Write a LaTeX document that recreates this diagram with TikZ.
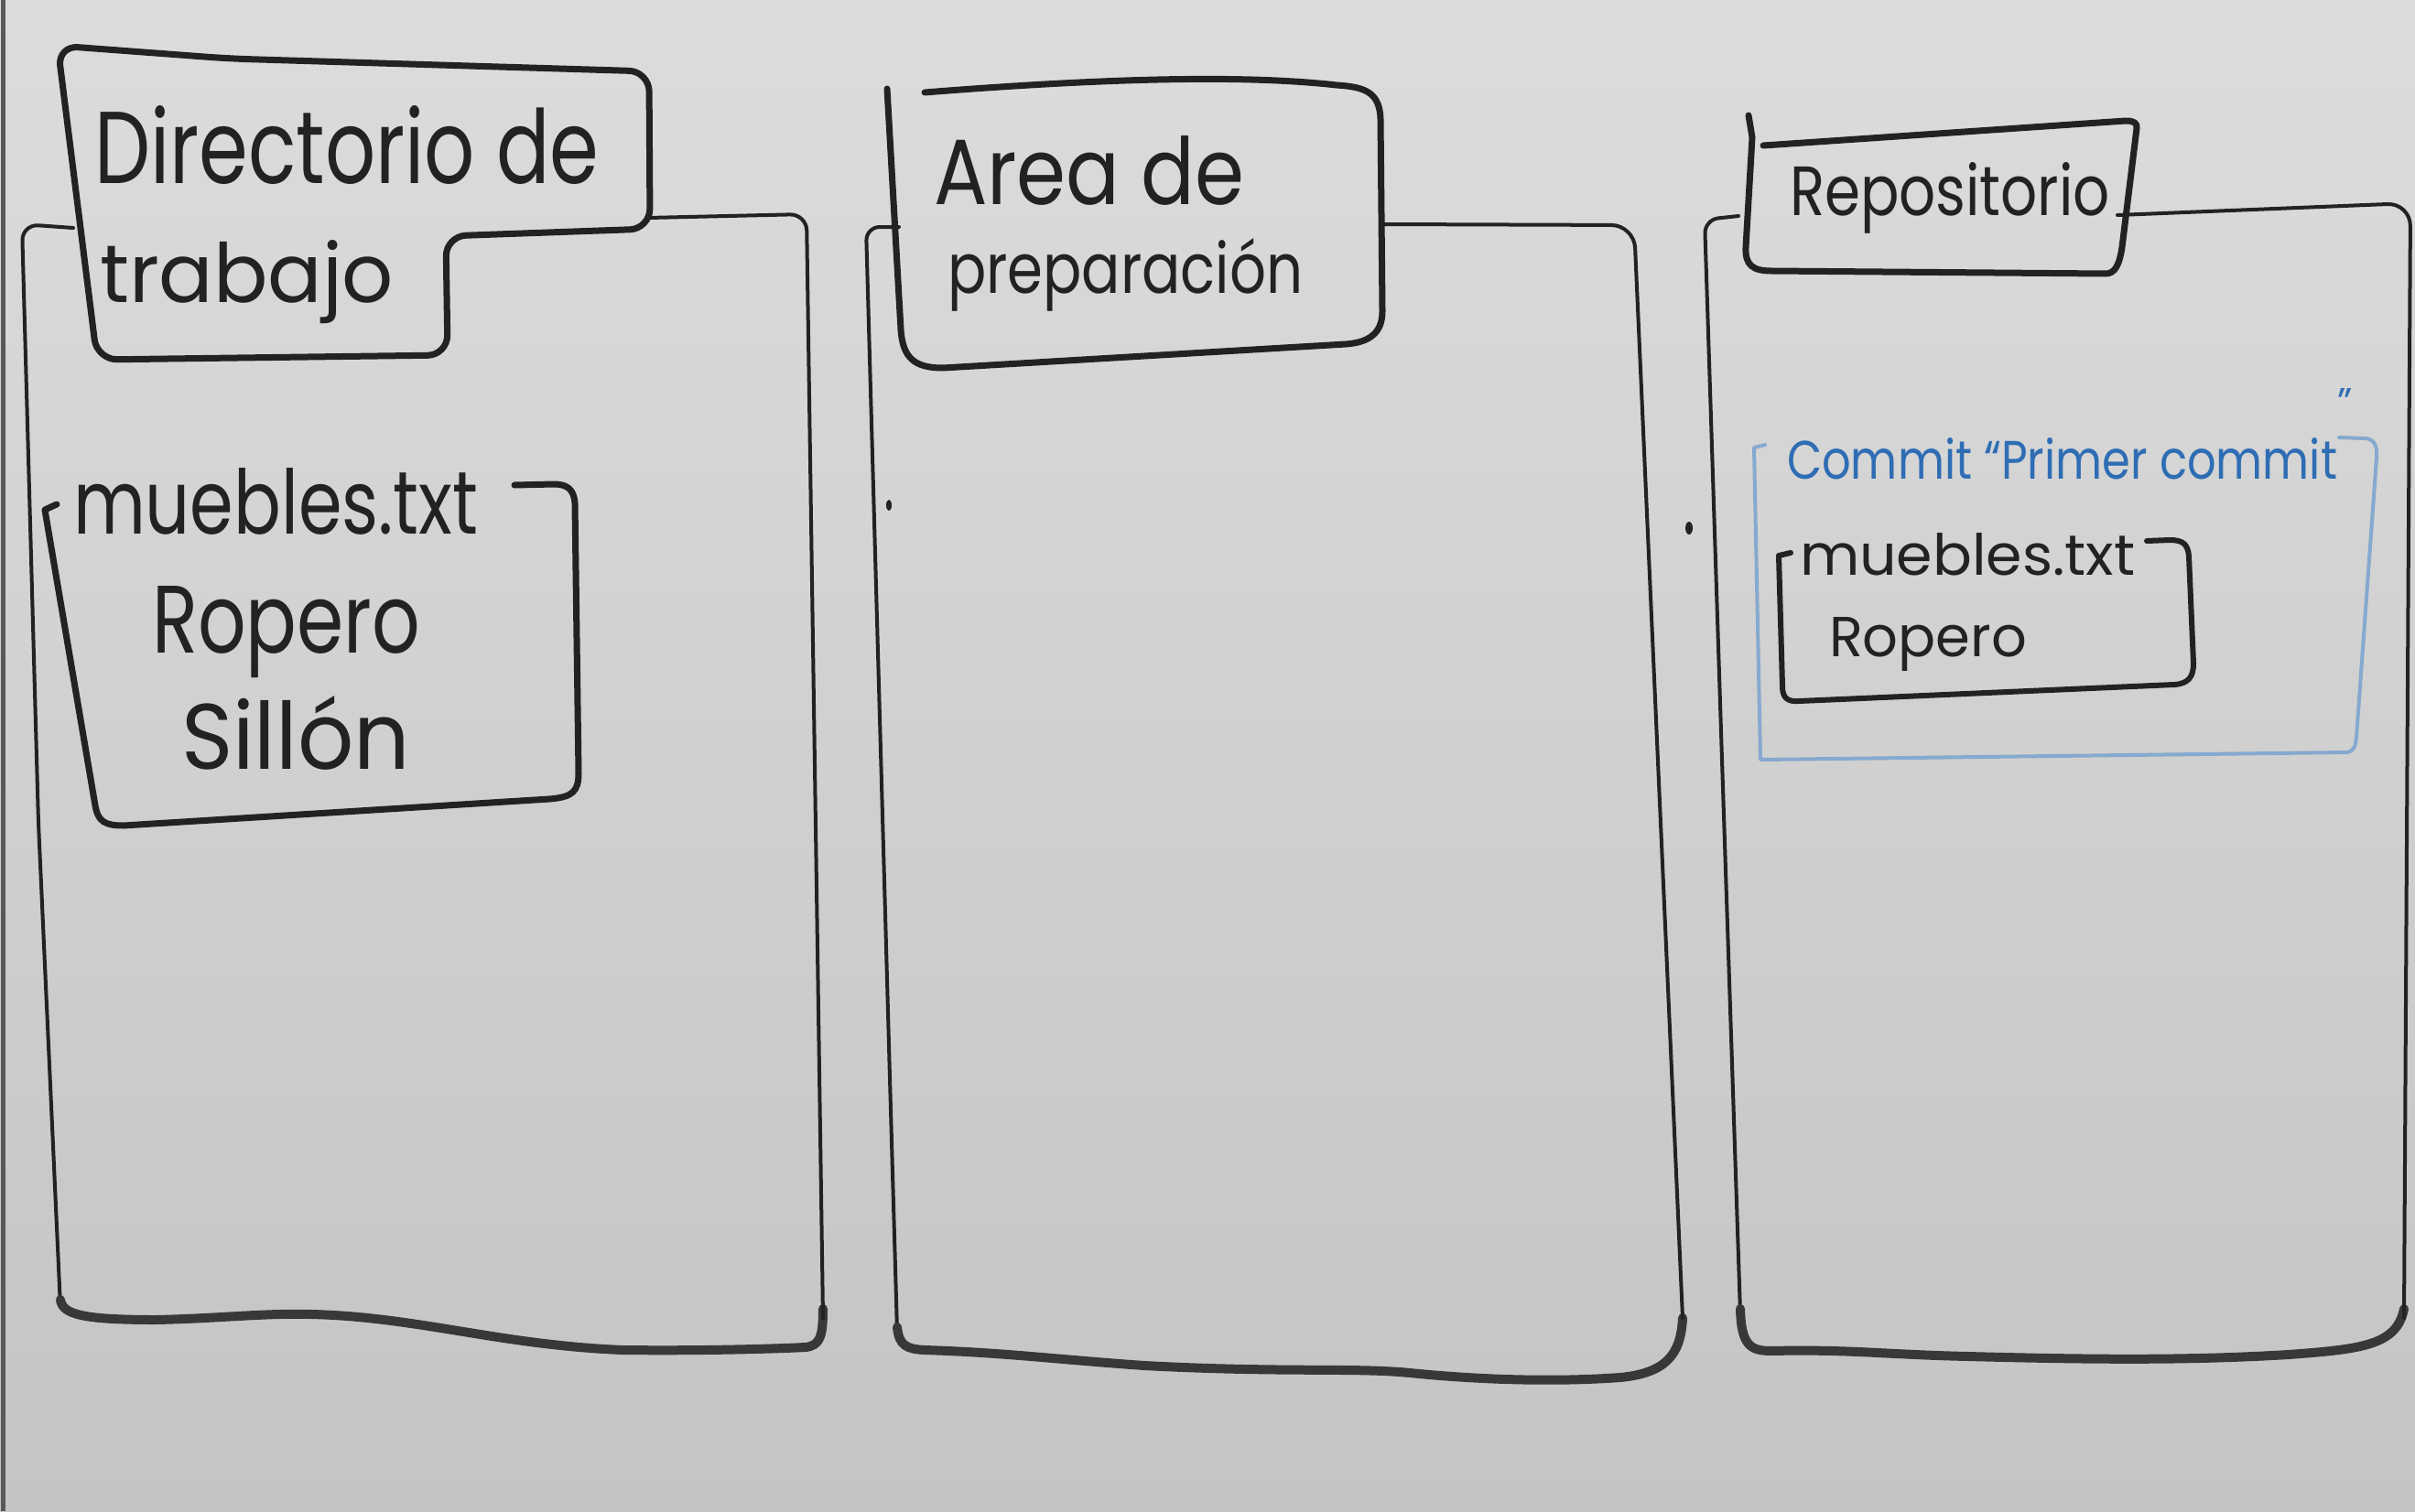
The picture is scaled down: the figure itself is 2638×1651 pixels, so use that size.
\documentclass[tikz,border=0pt]{standalone}
\usepackage{fontspec}
\setmainfont{Poppins}
\usepackage{graphicx}
\definecolor{ink}{HTML}{222222}
\definecolor{inkb}{HTML}{383838}
\definecolor{blueink}{HTML}{2E6DB4}
\definecolor{bluebox}{HTML}{86A9CF}
\definecolor{boardtop}{HTML}{DCDCDC}
\definecolor{boardbot}{HTML}{C4C4C4}
\newcommand\handtext[3]{\resizebox{#1pt}{#2pt}{#3}}
\tikzset{
  pen/.style={draw=ink, line width=7pt, line cap=round, line join=round},
  thinpen/.style={draw=ink, line width=4pt, line cap=round, line join=round},
  basepen/.style={draw=inkb, line width=10pt, line cap=round, line join=round},
  bluepen/.style={draw=bluebox, line width=4pt, line cap=round, line join=round},
  lbl/.style={anchor=base west, inner sep=0pt, outer sep=0pt, text=ink},
}
\begin{document}
\begin{tikzpicture}[x=1pt,y=-1pt]
\useasboundingbox (0,0) rectangle (2638,1651);
\fill[top color=boardtop, bottom color=boardbot] (0,0) rectangle (2638,1651);
\draw[draw=black!65, line width=5pt] (3,0) -- (3,1651);

% ---------- Panel 1: Directorio de trabajo ----------
\draw[pen, rounded corners=22pt] (63,50) -- (250,64) -- (709,78) -- (710,250) -- (487,258) -- (489,388) -- (106,393) -- cycle;
\draw[thinpen, rounded corners=18pt] (80,249) -- (24,245) -- (42,900) -- (66,1428);
\draw[basepen] (66,1420) .. controls (68,1436) and (90,1442) .. (170,1442) .. controls (260,1440) and (300,1432) .. (380,1438) .. controls (480,1446) and (560,1470) .. (680,1475) .. controls (760,1476) and (840,1474) .. (880,1472) .. controls (896,1470) and (899,1460) .. (899,1430);
\draw[thinpen, rounded corners=18pt] (899,1440) -- (881,234) -- (708,238);
% file box
\draw[pen] (62,551) -- (49,557) -- (104,880) .. controls (107,898) and (115,902) .. (135,902) -- (600,873) .. controls (625,871) and (632,865) .. (632,845) -- (628,550) .. controls (627,535) and (620,529) .. (605,529) -- (562,530);

\node[lbl] (dirA) at (103,200) {\handtext{551}{85}{Directorio de}};
\node[lbl] (dirB) at (109,330) {\handtext{321}{68}{trabajo}};
\node[lbl] (f1name) at (80,583) {\handtext{442}{72}{muebles.txt}};
\node[lbl] (f1l1) at (166,713) {\handtext{293}{73}{Ropero}};
\node[lbl] (f1l2) at (198,840) {\handtext{250}{80}{Sillón}};

% ---------- Panel 2: Area de preparación ----------
\draw[pen] (969,97) -- (984,360) .. controls (986,392) and (1000,402) .. (1030,402) -- (1470,376) .. controls (1500,374) and (1510,360) .. (1510,340) -- (1508,130) .. controls (1507,100) and (1490,95) .. (1460,93) .. controls (1380,84) and (1250,82) .. (1010,101);
\draw[thinpen, rounded corners=15pt] (982,248) -- (946,248) -- (972,1178) -- (980,1455);
\draw[basepen] (980,1450) .. controls (982,1470) and (990,1474) .. (1010,1475) .. controls (1100,1478) and (1150,1485) .. (1250,1492) .. controls (1400,1500) and (1480,1494) .. (1540,1500) .. controls (1620,1508) and (1700,1510) .. (1770,1505) .. controls (1820,1500) and (1836,1480) .. (1838,1440);
\draw[thinpen, rounded corners=25pt] (1838,1440) -- (1785,246) -- (1512,245);
\fill[ink] (971,552) ellipse (3pt and 6pt);

\node[lbl] (areaA) at (1020,223) {\handtext{339}{75}{Area de}};
\node[lbl] (areaB) at (1035,320) {\handtext{388}{60}{preparación}};

% ---------- Panel 3: Repositorio ----------
\draw[pen] (1910,126) -- (1914,150) -- (1907,270) .. controls (1906,290) and (1915,296) .. (1935,296) -- (2300,299) .. controls (2310,299) and (2315,290) .. (2318,270) -- (2334,140) .. controls (2335,134) and (2330,132) .. (2322,132) -- (1926,159);
\draw[thinpen, rounded corners=15pt] (1899,236) -- (1862,240) -- (1880,800) -- (1901,1435);
\draw[basepen] (1901,1430) .. controls (1902,1470) and (1912,1476) .. (1935,1476) .. controls (2020,1474) and (2060,1480) .. (2150,1482) .. controls (2300,1486) and (2400,1486) .. (2500,1480) .. controls (2580,1474) and (2618,1470) .. (2626,1430);
\draw[thinpen, rounded corners=25pt] (2626,1440) -- (2633,222) -- (2313,235);
\fill[ink] (1845,577) ellipse (4pt and 7pt);
% commit box (blue)
\draw[bluepen] (1928,486) -- (1916,489) -- (1923,830) -- (2564,822) .. controls (2572,820) and (2573,815) .. (2574,805) -- (2596,500) .. controls (2597,488) and (2594,480) .. (2584,479) -- (2555,478);
% file box
\draw[pen, line width=6pt] (1956,604) -- (1943,607) -- (1947,750) .. controls (1947,762) and (1952,767) .. (1965,766) -- (2375,748) .. controls (2390,747) and (2396,740) .. (2396,725) -- (2391,608) .. controls (2390,595) and (2385,590) .. (2370,590) -- (2345,591);

\node[lbl] (repo) at (1955,235) {\handtext{350}{58}{Repositorio}};
\node[lbl, text=blueink] (commit) at (1952,523) {\handtext{601}{45}{Commit “Primer commit}\raisebox{69pt}{\resizebox{!}{30pt}{”}}};
\node[lbl] (f3name) at (1966,628) {\handtext{366}{46}{muebles.txt}};
\node[lbl] (f3l1) at (1998,717) {\handtext{216}{43}{Ropero}};
\end{tikzpicture}
\end{document}
